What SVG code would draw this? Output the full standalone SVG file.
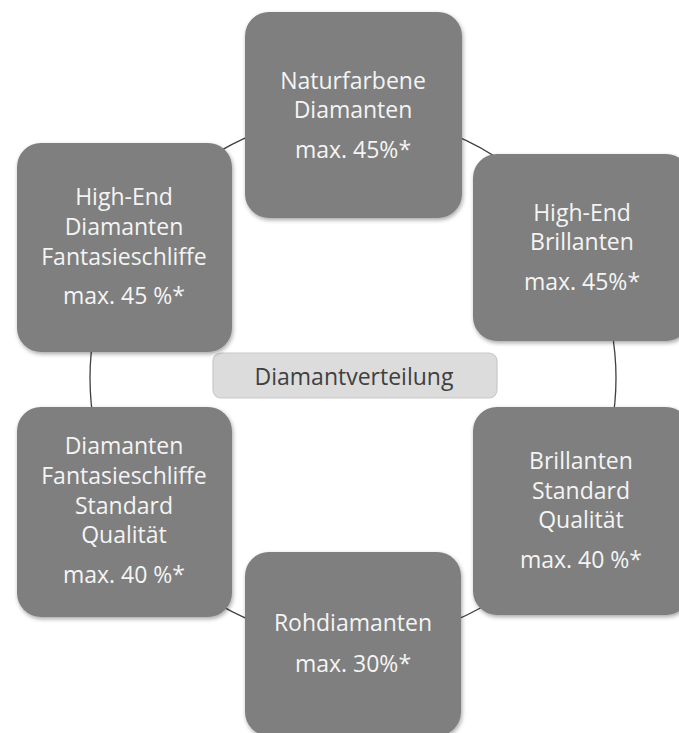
<svg xmlns="http://www.w3.org/2000/svg" width="679" height="733" viewBox="0 0 679 733">
<style>
.node{fill:#7f7f7f;filter:url(#sh)}
.t{font-family:"Open Sans","Liberation Sans",sans-serif;font-size:23px;fill:#f4f4f4;text-anchor:middle}
.c{font-family:"Open Sans","Liberation Sans",sans-serif;font-size:23px;fill:#404040;text-anchor:middle}
</style>
<defs>
<filter id="sh" x="-10%" y="-10%" width="120%" height="120%">
<feDropShadow dx="1" dy="2" stdDeviation="2" flood-color="#000" flood-opacity="0.35"/>
</filter>
</defs>
<rect width="679" height="733" fill="#fff"/>
<g id="connectors">
<circle cx="353" cy="378" r="263" fill="none" stroke="#404040" stroke-width="1.3"/>
</g>
<g id="center">
<rect x="213" y="353" width="284" height="45" rx="8" fill="#dcdcdc" stroke="#c9c9c9" stroke-width="1.2"/>
<text class="c" x="354" y="385">Diamantverteilung</text>
</g>
<g id="node-top">
<rect class="node" x="245" y="12" width="217" height="206" rx="24"/>
<text class="t" x="353" y="89">Naturfarbene</text>
<text class="t" x="353" y="118">Diamanten</text>
<text class="t" x="353" y="158">max. 45%*</text>
</g>
<g id="node-right-top">
<rect class="node" x="473" y="154" width="217" height="187" rx="24"/>
<text class="t" x="582" y="221">High-End</text>
<text class="t" x="582" y="250">Brillanten</text>
<text class="t" x="582" y="290">max. 45%*</text>
</g>
<g id="node-right-bottom">
<rect class="node" x="473" y="407" width="217" height="208" rx="24"/>
<text class="t" x="581" y="469">Brillanten</text>
<text class="t" x="581" y="499">Standard</text>
<text class="t" x="581" y="528">Qualität</text>
<text class="t" x="581" y="568">max. 40 %*</text>
</g>
<g id="node-bottom">
<rect class="node" x="245" y="552" width="216" height="184" rx="24"/>
<text class="t" x="353" y="631">Rohdiamanten</text>
<text class="t" x="353" y="672">max. 30%*</text>
</g>
<g id="node-left-bottom">
<rect class="node" x="17" y="407" width="215" height="210" rx="24"/>
<text class="t" x="124" y="454">Diamanten</text>
<text class="t" x="124" y="484">Fantasieschliffe</text>
<text class="t" x="124" y="514">Standard</text>
<text class="t" x="124" y="543">Qualität</text>
<text class="t" x="124" y="583">max. 40 %*</text>
</g>
<g id="node-left-top">
<rect class="node" x="17" y="143" width="215" height="209" rx="24"/>
<text class="t" x="124" y="205">High-End</text>
<text class="t" x="124" y="235">Diamanten</text>
<text class="t" x="124" y="265">Fantasieschliffe</text>
<text class="t" x="124" y="304">max. 45 %*</text>
</g>
</svg>
